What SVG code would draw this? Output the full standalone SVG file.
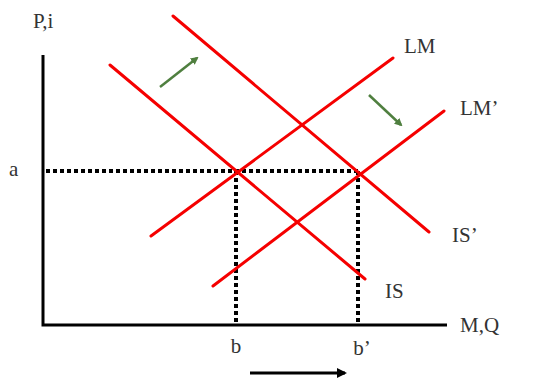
<svg xmlns="http://www.w3.org/2000/svg" width="555" height="385" viewBox="0 0 555 385">
<defs>
<style>
.ax{stroke:#000;stroke-width:3;fill:none}
.dot{stroke:#000;stroke-width:4;stroke-dasharray:4 3;fill:none}
.cur{stroke:#f50000;stroke-width:3;fill:none;stroke-linecap:round}
.g{stroke:#4f7f3f;stroke-width:2.5;fill:none}
.t{font-family:"Liberation Serif",serif;font-size:21px;fill:#333}
</style>
<marker id="ga" markerWidth="8" markerHeight="8" refX="6" refY="4" orient="auto" markerUnits="userSpaceOnUse"><path d="M0,0 L8,4 L0,8 Z" fill="#4f7f3f"/></marker>
<marker id="ka" markerWidth="10" markerHeight="10" refX="8" refY="5" orient="auto" markerUnits="userSpaceOnUse"><path d="M0,0 L10,5 L0,10 Z" fill="#000"/></marker>
</defs>
<rect width="555" height="385" fill="#fff"/>
<g id="axes">
<path class="ax" d="M43,55 V325 H447"/>
</g>
<g id="connectors">
<path class="dot" d="M46,171 H358"/>
<path class="dot" d="M236,171 V322"/>
<path class="dot" d="M358,171 V322"/>
<line class="g" x1="160" y1="87" x2="197" y2="58" marker-end="url(#ga)"/>
<line class="g" x1="369" y1="95" x2="401" y2="125" marker-end="url(#ga)"/>
<line class="ax" x1="250" y1="373" x2="345" y2="373" stroke-width="2.5" marker-end="url(#ka)"/>
</g>
<g id="IS"><line class="cur" x1="110" y1="65" x2="365" y2="279"/><text class="t" x="385" y="298">IS</text></g>
<g id="ISp"><line class="cur" x1="173" y1="16" x2="429" y2="232"/><text class="t" x="452" y="242">IS’</text></g>
<g id="LM"><line class="cur" x1="151" y1="236" x2="393" y2="58"/><text class="t" x="404" y="53">LM</text></g>
<g id="LMp"><line class="cur" x1="213" y1="286" x2="444" y2="111"/><text class="t" x="460" y="115">LM’</text></g>
<g id="labels">
<text class="t" x="33" y="28">P,i</text>
<text class="t" x="9" y="176">a</text>
<text class="t" x="460" y="332">M,Q</text>
<text class="t" x="236" y="353" text-anchor="middle">b</text>
<text class="t" x="362" y="355" text-anchor="middle">b’</text>
</g>
</svg>
